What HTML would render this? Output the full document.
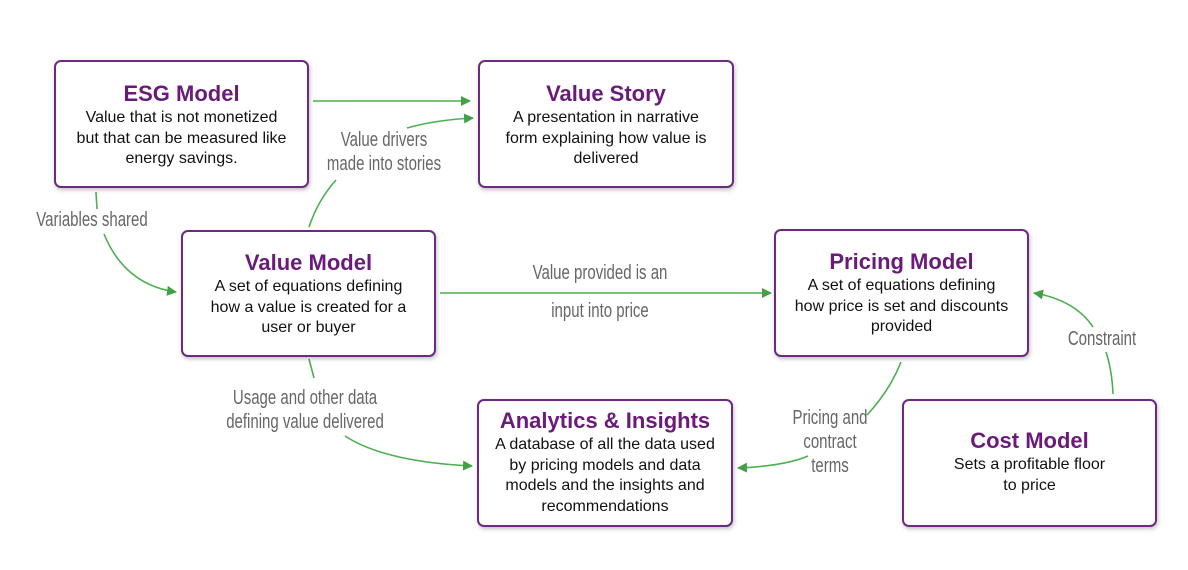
<!DOCTYPE html>
<html><head><meta charset="utf-8"><style>
body{margin:0;width:1188px;height:570px;background:#fff;position:relative;overflow:hidden;font-family:"Liberation Sans",sans-serif}
.b{position:absolute;box-sizing:border-box;border:2px solid #6c2a80;border-radius:7px;background:#fff;box-shadow:1px 2px 4px rgba(0,0,0,.25);text-align:center;color:#111;font-size:16px;line-height:20.5px}
.b h{display:block;color:#6a1b7a;font-weight:bold;font-size:22px;line-height:26px;margin-bottom:1px}
.l{position:absolute;color:#666;font-size:20px;line-height:24px;text-align:center;white-space:nowrap;transform:scaleX(.75);transform-origin:center}
svg{position:absolute;left:0;top:0}
</style></head><body>
<svg width="1188" height="570"><defs><marker id="a" markerWidth="10" markerHeight="10" refX="9" refY="5" orient="auto" markerUnits="userSpaceOnUse"><path d="M0,0L10,5L0,10z" fill="#43a047"/></marker></defs>
<g stroke="#4caf50" stroke-width="1.6" fill="none">
<path d="M313,101H470" marker-end="url(#a)"/>
<path d="M309,227Q318,200 336,180"/>
<path d="M407,128Q435,120 473,118" marker-end="url(#a)"/>
<path d="M96,192L97,209"/>
<path d="M104,234Q125,285 176,292" marker-end="url(#a)"/>
<path d="M440,293H771" marker-end="url(#a)"/>
<path d="M309,359L314,378"/>
<path d="M345,436Q385,462 472,466" marker-end="url(#a)"/>
<path d="M901,362Q890,390 867,415"/>
<path d="M808,456Q785,466 738,468" marker-end="url(#a)"/>
<path d="M1113,394Q1112,370 1106,352"/>
<path d="M1093,327Q1075,300 1034,293" marker-end="url(#a)"/>
</g></svg>
<div class="b" style="left:54px;top:60px;width:255px;height:128px;padding-top:19px"><h>ESG Model</h>Value that is not monetized<br>but that can be measured like<br>energy savings.</div>
<div class="b" style="left:478px;top:60px;width:256px;height:128px;padding-top:19px"><h>Value Story</h>A presentation in narrative<br>form explaining how value is<br>delivered</div>
<div class="b" style="left:181px;top:230px;width:255px;height:127px;padding-top:18px"><h>Value Model</h>A set of equations defining<br>how a value is created for a<br>user or buyer</div>
<div class="b" style="left:774px;top:229px;width:255px;height:128px;padding-top:18px"><h>Pricing Model</h>A set of equations defining<br>how price is set and discounts<br>provided</div>
<div class="b" style="left:477px;top:399px;width:256px;height:128px;padding-top:7px"><h>Analytics &amp; Insights</h>A database of all the data used<br>by pricing models and data<br>models and the insights and<br>recommendations</div>
<div class="b" style="left:902px;top:399px;width:255px;height:128px;padding-top:27px"><h>Cost Model</h>Sets a profitable floor<br>to price</div>
<div class="l" style="left:284px;top:128px;width:200px">Value drivers<br>made into stories</div>
<div class="l" style="left:-8px;top:208px;width:200px">Variables shared</div>
<div class="l" style="left:500px;top:261px;width:200px">Value provided is an</div>
<div class="l" style="left:500px;top:299px;width:200px">input into price</div>
<div class="l" style="left:185px;top:386px;width:240px">Usage and other data<br>defining value delivered</div>
<div class="l" style="left:770px;top:406px;width:120px">Pricing and<br>contract<br>terms</div>
<div class="l" style="left:1042px;top:327px;width:120px">Constraint</div>
</body></html>
